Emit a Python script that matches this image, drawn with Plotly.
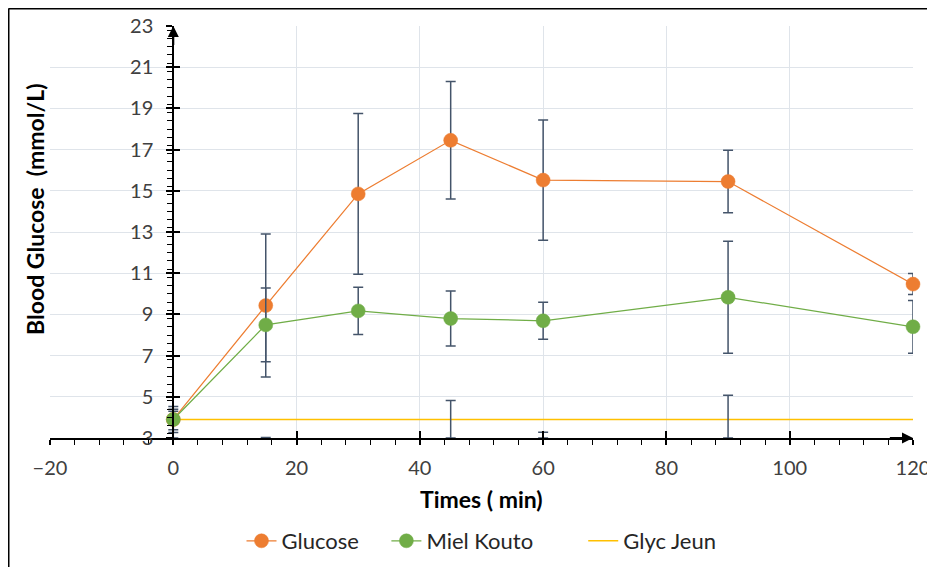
import plotly.graph_objects as go

# ---- data ----
times = [0, 15, 30, 45, 60, 90, 120]
glucose = [3.9, 9.43, 14.85, 17.45, 15.52, 15.45, 10.47]
glucose_sd = [0.63, 3.47, 3.9, 2.85, 2.92, 1.52, 0.51]
miel = [3.9, 8.49, 9.17, 8.8, 8.69, 9.83, 8.4]
miel_sd = [0.5, 1.79, 1.15, 1.33, 0.9, 2.72, 1.28]
glyc_jeun = [3.9, 3.9, 3.9, 3.9, 3.9, 3.9, 3.9]
# Glyc Jeun error bars: only their upper ends are visible above the axis
glyc_bar_times = [0, 15, 45, 60, 90]
glyc_bar_top = [4.3, 3.02, 4.82, 3.28, 5.07]

x_ticks = [-20, 0, 20, 40, 60, 80, 100, 120]
y_ticks = [3, 5, 7, 9, 11, 13, 15, 17, 19, 21, 23]
x_range = [-20, 120]
y_range = [3, 23]

ORANGE = "#ED7D31"
GREEN = "#70AD47"
YELLOW = "#FFC000"
ERR = "#44546A"
GRID = "#DFE4EA"
FONT = "Lato, 'Open Sans', sans-serif"
NB = "\u00a0"  # spacing between legend entries

# plot-area geometry in figure pixels (page is offset by the body margin)
W, H = 935, 567
ML, MR, MT, MB = 42, 30, 18, 137
PW, PH = W - ML - MR, H - MT - MB


def px_x(px):
    return (px - ML) / PW


def px_y(py):
    return (H - MB - py) / PH


fig = go.Figure()

fig.add_trace(go.Scatter(
    x=times, y=glyc_jeun, name="Glyc Jeun", mode="lines",
    line=dict(color=YELLOW, width=1.5), showlegend=False,
))
fig.add_trace(go.Scatter(
    x=glyc_bar_times, y=[y_range[0]] * len(glyc_bar_times), mode="markers",
    marker=dict(size=1, opacity=0), showlegend=False, hoverinfo="skip",
    error_y=dict(type="data", symmetric=False,
                 array=[t - y_range[0] for t in glyc_bar_top],
                 arrayminus=[0] * len(glyc_bar_top),
                 color=ERR, thickness=1.5, width=5),
))
fig.add_trace(go.Scatter(
    x=times, y=glucose, name="Glucose" + NB * 4, mode="lines+markers",
    line=dict(color=ORANGE, width=1.25), cliponaxis=False,
    marker=dict(color=ORANGE, size=14, line=dict(color=ORANGE, width=0.5)),
    error_y=dict(type="data", array=glucose_sd, color=ERR, thickness=1.5, width=5),
))
fig.add_trace(go.Scatter(
    x=times, y=miel, name="Miel Kouto" + NB * 8, mode="lines+markers",
    line=dict(color=GREEN, width=1.25), cliponaxis=False,
    marker=dict(color=GREEN, size=14, line=dict(color=GREEN, width=0.5)),
    error_y=dict(type="data", array=miel_sd, color=ERR, thickness=1.5, width=5),
))
# legend entry for Glyc Jeun
fig.add_trace(go.Scatter(
    x=[None], y=[None], name="Glyc Jeun", mode="lines",
    line=dict(color=YELLOW, width=1.5),
))

ypos = (0 - x_range[0]) / (x_range[1] - x_range[0])

fig.update_layout(
    width=W, height=H,
    margin=dict(l=ML, r=MR, t=MT, b=MB, autoexpand=False),
    paper_bgcolor="white", plot_bgcolor="white",
    font=dict(family=FONT, size=20, color="#404040"),
    xaxis=dict(
        range=x_range, tickmode="array", tickvals=x_ticks,
        showgrid=True, gridcolor=GRID, gridwidth=1,
        showline=True, linecolor="black", linewidth=2,
        ticks="outside", ticklen=5, tickwidth=1.5, tickcolor="black",
        minor=dict(ticks="outside", dtick=4, ticklen=5, tickwidth=1.2,
                   tickcolor="black", showgrid=False),
        ticklabelstandoff=6, zeroline=False,
        tickfont=dict(size=20, color="#404040"),
    ),
    xaxis2=dict(
        range=x_range, overlaying="x", anchor="y", tickmode="array",
        tickvals=x_ticks, showticklabels=False, showgrid=False,
        showline=False, zeroline=False,
        ticks="inside", ticklen=7, tickwidth=1.5, tickcolor="black",
    ),
    yaxis=dict(
        range=y_range, tickmode="array", tickvals=y_ticks,
        anchor="free", position=ypos,
        showgrid=True, gridcolor=GRID, gridwidth=1,
        showline=True, linecolor="black", linewidth=2,
        ticks="outside", ticklen=6, tickwidth=1.5, tickcolor="black",
        minor=dict(ticks="outside", dtick=0.4, ticklen=5, tickwidth=1.2,
                   tickcolor="black", showgrid=False),
        ticklabelstandoff=9, zeroline=False,
        tickfont=dict(size=20, color="#404040"),
    ),
    yaxis2=dict(
        range=y_range, overlaying="y", anchor="free", position=ypos,
        tickmode="array", tickvals=y_ticks, showticklabels=False,
        showgrid=False, showline=False, zeroline=False,
        ticks="inside", ticklen=6, tickwidth=1.5, tickcolor="black",
    ),
    legend=dict(
        orientation="h", x=0.5, xanchor="center", y=-0.25, yanchor="middle",
        font=dict(size=22, color="#262626"), bgcolor="rgba(0,0,0,0)",
        traceorder="normal",
    ),
    showlegend=True,
)

# dummy trace so the overlay axes are drawn
fig.add_trace(go.Scatter(x=[None], y=[None], xaxis="x2", yaxis="y2",
                         showlegend=False, hoverinfo="skip"))

# axis titles
fig.add_annotation(
    text="<b>Times ( min)</b>", xref="paper", yref="paper",
    x=0.5, y=-0.148, xanchor="center", yanchor="middle", showarrow=False,
    font=dict(size=23, color="black", family=FONT),
)
fig.add_annotation(
    text="<b>Blood Glucose  (mmol/L)</b>", xref="paper", yref="paper",
    x=-0.0174, y=0.556, xanchor="center", yanchor="middle", showarrow=False,
    textangle=-90, font=dict(size=23, color="black", family=FONT),
)

# axis arrowheads
fig.add_annotation(
    x=0, y=y_range[1], ax=0, ay=y_range[1] - 1, xref="x", yref="y",
    axref="x", ayref="y", showarrow=True, arrowhead=2, arrowsize=1.1,
    arrowwidth=2, arrowcolor="black", text="",
)
fig.add_annotation(
    x=x_range[1], y=y_range[0], ax=x_range[1] - 4, ay=y_range[0], xref="x",
    yref="y", axref="x", ayref="y", showarrow=True, arrowhead=2,
    arrowsize=1.1, arrowwidth=2, arrowcolor="black", text="",
)

# outer frame (chart border, cropped at right/bottom)
fig.add_shape(type="line", xref="paper", yref="paper",
              x0=px_x(0.5), x1=px_x(W + 20), y0=px_y(0.5), y1=px_y(0.5),
              line=dict(color="black", width=2))
fig.add_shape(type="line", xref="paper", yref="paper",
              x0=px_x(0.5), x1=px_x(0.5), y0=px_y(0.5), y1=px_y(H + 20),
              line=dict(color="black", width=2))

fig.write_html("out.html")
